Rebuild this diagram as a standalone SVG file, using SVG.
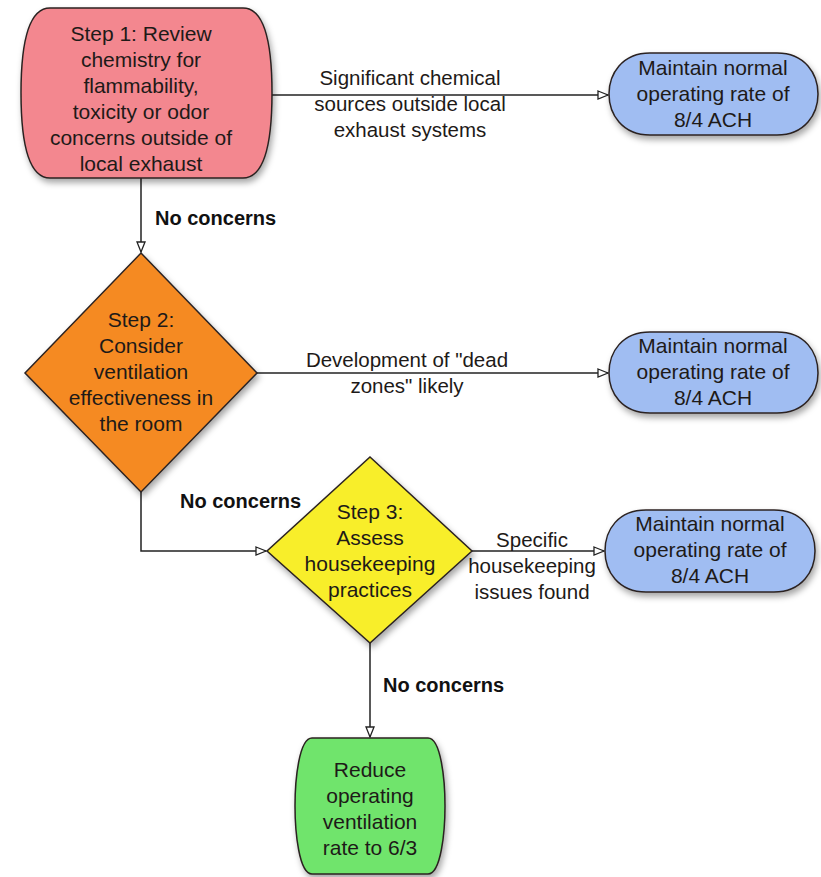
<svg xmlns="http://www.w3.org/2000/svg" width="821" height="877" viewBox="0 0 821 877">
<style>
  .node { stroke: #2b2220; stroke-width: 1.5; filter: url(#sh); }
  .t { font-family: "Liberation Sans", Arial, sans-serif; font-size: 21px; fill: #1e1a18; text-anchor: middle; }
  .lbl { font-family: "Liberation Sans", Arial, sans-serif; font-size: 20.5px; fill: #1e1a18; text-anchor: middle; }
  .b { font-family: "Liberation Sans", Arial, sans-serif; font-size: 20px; font-weight: bold; fill: #111; }
  .conn { fill: none; stroke: #222; stroke-width: 1.5; marker-end: url(#arr); }
</style>
<defs>
  <filter id="sh" x="-10%" y="-10%" width="125%" height="130%">
    <feDropShadow dx="2" dy="4" stdDeviation="3" flood-color="#000" flood-opacity="0.35"/>
  </filter>
  <marker id="arr" viewBox="0 0 12 10" refX="11" refY="5" markerWidth="12" markerHeight="10" markerUnits="userSpaceOnUse" orient="auto">
    <path d="M1,1 L11,5 L1,9 Z" fill="#fff" stroke="#222" stroke-width="1.3"/>
  </marker>
</defs>
<rect width="821" height="877" fill="#fff"/>

<g id="connectors">
  <path class="conn" d="M272,95 H608"/>
  <path class="conn" d="M141,178 V252"/>
  <path class="conn" d="M257,373 H608"/>
  <path class="conn" d="M141,492 V551 H266"/>
  <path class="conn" d="M472,551 H604"/>
  <path class="conn" d="M370,643 V737"/>
  <text class="lbl" x="410" y="85">Significant chemical</text>
  <text class="lbl" x="410" y="111">sources outside local</text>
  <text class="lbl" x="410" y="137">exhaust systems</text>
  <text class="b" x="155" y="225">No concerns</text>
  <text class="lbl" x="407" y="367">Development of "dead</text>
  <text class="lbl" x="407" y="393">zones" likely</text>
  <text class="b" x="180" y="508">No concerns</text>
  <text class="lbl" x="532" y="547">Specific</text>
  <text class="lbl" x="532" y="573">housekeeping</text>
  <text class="lbl" x="532" y="599">issues found</text>
  <text class="b" x="383" y="692">No concerns</text>
</g>

<g id="step1">
  <path class="node" fill="#F3878F" d="M50,8 H243 C266,8 272,50 272,93 C272,136 266,178 243,178 H50 C27,178 21,136 21,93 C21,50 27,8 50,8 Z"/>
  <text class="t" x="141" y="41">Step 1: Review</text>
  <text class="t" x="141" y="67">chemistry for</text>
  <text class="t" x="141" y="93">flammability,</text>
  <text class="t" x="141" y="119">toxicity or odor</text>
  <text class="t" x="141" y="145">concerns outside of</text>
  <text class="t" x="141" y="171">local exhaust</text>
</g>

<g id="maintain1">
  <path class="node" fill="#A0BDF2" d="M650,53 H777 C805,53 818,74 818,94 C818,114 805,135 777,135 H650 C622,135 609,114 609,94 C609,74 622,53 650,53 Z"/>
  <text class="t" x="713" y="75">Maintain normal</text>
  <text class="t" x="713" y="101">operating rate of</text>
  <text class="t" x="713" y="127">8/4 ACH</text>
</g>

<g id="step2">
  <path class="node" fill="#F58A22" d="M141,253 L257,373 L141,492 L25,373 Z"/>
  <text class="t" x="141" y="327">Step 2:</text>
  <text class="t" x="141" y="353">Consider</text>
  <text class="t" x="141" y="379">ventilation</text>
  <text class="t" x="141" y="405">effectiveness in</text>
  <text class="t" x="141" y="431">the room</text>
</g>

<g id="maintain2">
  <path class="node" fill="#A0BDF2" d="M650,332 H777 C805,332 818,352 818,373 C818,393 805,413 777,413 H650 C622,413 609,393 609,373 C609,352 622,332 650,332 Z"/>
  <text class="t" x="713" y="353">Maintain normal</text>
  <text class="t" x="713" y="379">operating rate of</text>
  <text class="t" x="713" y="405">8/4 ACH</text>
</g>

<g id="step3">
  <path class="node" fill="#F8EE2C" d="M370,457 L472,551 L370,643 L267,551 Z"/>
  <text class="t" x="370" y="519">Step 3:</text>
  <text class="t" x="370" y="545">Assess</text>
  <text class="t" x="370" y="571">housekeeping</text>
  <text class="t" x="370" y="597">practices</text>
</g>

<g id="maintain3">
  <path class="node" fill="#A0BDF2" d="M646,510 H774 C802,510 815,530 815,551 C815,571 802,592 774,592 H646 C618,592 605,571 605,551 C605,530 618,510 646,510 Z"/>
  <text class="t" x="710" y="531">Maintain normal</text>
  <text class="t" x="710" y="557">operating rate of</text>
  <text class="t" x="710" y="583">8/4 ACH</text>
</g>

<g id="reduce">
  <path class="node" fill="#6FE46C" d="M312,738 H428 C441,738 445,780 445,806 C445,832 441,874 428,874 H312 C299,874 295,832 295,806 C295,780 299,738 312,738 Z"/>
  <text class="t" x="370" y="777">Reduce</text>
  <text class="t" x="370" y="803">operating</text>
  <text class="t" x="370" y="829">ventilation</text>
  <text class="t" x="370" y="855">rate to 6/3</text>
</g>
</svg>
